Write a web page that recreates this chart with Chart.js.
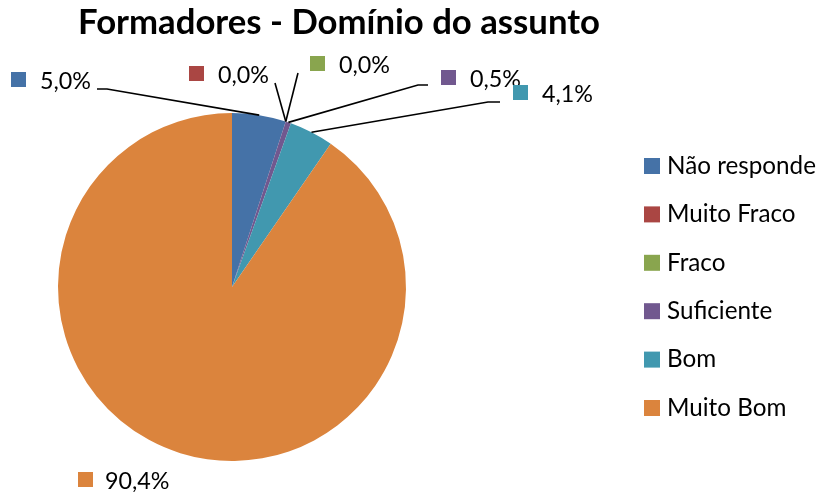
<!DOCTYPE html>
<html><head><meta charset="utf-8">
<script src="https://cdn.jsdelivr.net/npm/chart.js@4.4.1/dist/chart.umd.min.js"></script>
<style>html,body{margin:0;padding:0;background:#fff}#wrap{width:819px;height:492px}</style>
</head><body><div id="wrap"><canvas id="c" width="819" height="492"></canvas></div>
<script>
const chartTitle = 'Formadores - Domínio do assunto';
const categories = ['Não responde', 'Muito Fraco', 'Fraco', 'Suficiente', 'Bom', 'Muito Bom'];
const shares = [5.0, 0.0, 0.0, 0.5, 4.1, 90.4];
const sliceColors = ['#4572A7', '#AA4643', '#89A54E', '#71588F', '#4198AF', '#DB843D'];

// Placement of each percentage callout: marker box (left, top), text start, text centre line,
// and the leader-line points that follow the anchor on the slice edge.
const calloutLayout = [
  { box: [11, 72],  tx: 40,  ty: 81, path: [[107, 89], [97, 89]] },
  { box: [189, 66], tx: 218, ty: 75, path: [[275, 83]] },
  { box: [310, 56], tx: 339, ty: 65, path: [[298, 73]] },
  { box: [441, 70], tx: 470, ty: 79, path: [[418, 85], [428, 85]] },
  { box: [513, 85], tx: 542, ty: 94, path: [[488, 102], [500, 102]] },
  { box: [78, 472], tx: 105, ty: 481, path: [] }
];

const FONT = 'Lato, "Open Sans", sans-serif';

function fitSize(ctx, text, weight, base, target) {
  ctx.font = weight + ' ' + base + 'px ' + FONT;
  const w = ctx.measureText(text).width;
  return base * target / w;
}

const pct = v => v.toFixed(1).replace('.', ',') + '%';

const annotate = {
  id: 'annotate',
  afterDraw(chart) {
    const ctx = chart.ctx;
    ctx.save();
    // title
    const tSize = fitSize(ctx, chartTitle, 'bold', 34, 522);
    ctx.font = 'bold ' + tSize + 'px ' + FONT;
    ctx.fillStyle = '#000';
    ctx.textAlign = 'center';
    ctx.textBaseline = 'middle';
    ctx.fillText(chartTitle, 339, 23);

    // callouts
    const lSize = fitSize(ctx, '5,0%', 'normal', 22, 51);
    const arcs = chart.getDatasetMeta(0).data;
    arcs.forEach((arc, i) => {
      const p = arc.getProps(['x', 'y', 'startAngle', 'endAngle', 'outerRadius'], true);
      const mid = (p.startAngle + p.endAngle) / 2;
      const L = calloutLayout[i];
      if (L.path.length) {
        ctx.beginPath();
        ctx.moveTo(p.x + p.outerRadius * Math.cos(mid), p.y + p.outerRadius * Math.sin(mid));
        L.path.forEach(pt => ctx.lineTo(pt[0], pt[1]));
        ctx.strokeStyle = '#000';
        ctx.lineWidth = 1.6;
        ctx.stroke();
      }
      ctx.fillStyle = sliceColors[i];
      ctx.fillRect(L.box[0], L.box[1], 15, 15);
      ctx.fillStyle = '#000';
      ctx.font = lSize + 'px ' + FONT;
      ctx.textAlign = 'left';
      ctx.textBaseline = 'middle';
      ctx.fillText(pct(shares[i]), L.tx, L.ty);
    });

    // legend
    const gSize = fitSize(ctx, categories[0], 'normal', 22, 149);
    ctx.font = gSize + 'px ' + FONT;
    categories.forEach((name, i) => {
      const cy = 166 + i * 48.4;
      ctx.fillStyle = sliceColors[i];
      ctx.fillRect(644, cy - 8, 16, 16);
      ctx.fillStyle = '#000';
      ctx.fillText(name, 667, cy);
    });
    ctx.restore();
  }
};

new Chart(document.getElementById('c'), {
  type: 'pie',
  data: {
    labels: categories,
    datasets: [{ data: shares, backgroundColor: sliceColors, borderWidth: 0 }]
  },
  options: {
    responsive: false,
    animation: false,
    devicePixelRatio: 1,
    layout: { padding: { top: 113, bottom: 31, left: 58, right: 413 } },
    plugins: { legend: { display: false }, title: { display: false }, tooltip: { enabled: false } }
  },
  plugins: [annotate]
});
</script>
</body></html>
